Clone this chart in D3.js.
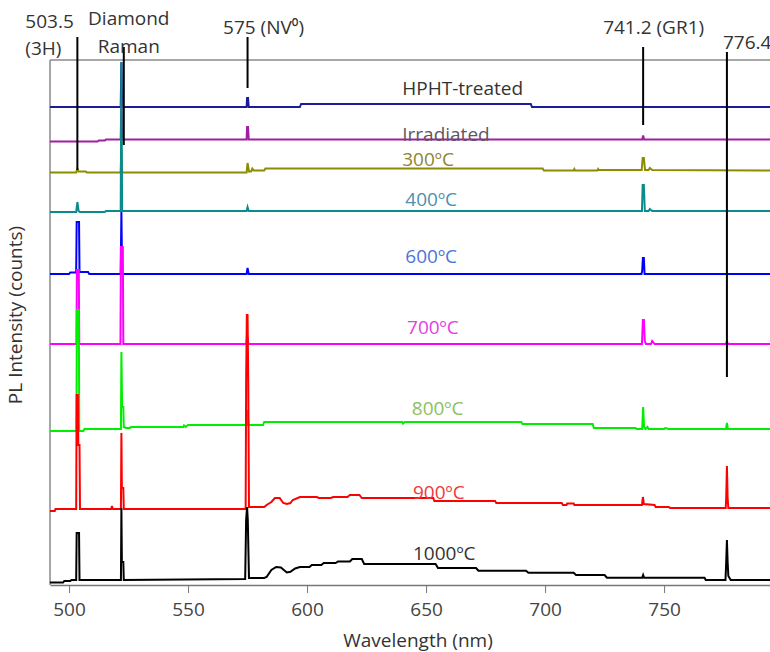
<!DOCTYPE html>
<html lang="en">

<head>
    <meta charset="UTF-8">
    <title>PL spectra</title>
    <style>
        body { margin: 0; background: #fff; }
        text { font-family: 'Open Sans', sans-serif; }
    </style>
</head>

<body>
    <div id="d3-container"></div>
    <script src="https://d3js.org/d3.v7.min.js"></script>
    <script>
        // spectra: [wavelength nm, counts] (offset stacked)
        const hphtTreated = [[492, 9560], [521.7, 9560], [522, 10460], [522.3, 9560], [574.6, 9560], [574.8, 9740], [575.2, 9740], [575.5, 9560],
            [597, 9560], [597.5, 9620], [694, 9620], [694.5, 9560], [795, 9560]]
        const irradiated = [[492, 8870], [512, 8870], [512.5, 8890], [515, 8890], [515.5, 8910], [521.7, 8910], [522, 9700], [522.3, 8910],
            [574.6, 8910], [574.8, 9160], [575.2, 9160], [575.5, 8910], [740.8, 8910], [741.2, 8990], [741.6, 8910], [795, 8910]]
        const t300 = [[492, 8250], [503, 8250], [503.5, 8330], [504, 8270], [507, 8270], [507.5, 8250], [521.7, 8250], [522, 8700], [522.3, 8250],
            [574.6, 8250], [575, 8440], [575.6, 8270], [576.5, 8270], [577, 8330], [577.6, 8290], [582, 8290], [582.5, 8330], [699, 8330],
            [699.5, 8290], [712, 8290], [712.3, 8320], [712.6, 8290], [722, 8290], [722.3, 8320], [722.6, 8300], [740.6, 8300], [741, 8540],
            [741.5, 8540], [742, 8300], [743.5, 8300], [744, 8340], [745, 8300], [795, 8290]]
        const t400 = [[492, 7460], [503, 7460], [503.5, 7660], [504, 7480], [504.5, 7460], [515, 7460], [515.5, 7480], [521.7, 7480], [522, 10460],
            [522.3, 7480], [574.6, 7480], [575, 7560], [575.5, 7480], [740.7, 7480], [741, 8000], [741.5, 8000], [741.9, 7480], [743.5, 7480],
            [744, 7520], [745, 7480], [795, 7480]]
        const t600 = [[492, 6220], [500, 6220], [500.5, 6250], [503, 6250], [503.2, 7260], [504.2, 7260], [504.4, 6260], [508, 6260], [508.5, 6220],
            [521.7, 6220], [522, 7460], [522.3, 6220], [574.6, 6220], [575, 6340], [575.5, 6220], [740.5, 6220], [740.8, 6280], [741.1, 6540],
            [741.5, 6540], [741.8, 6220], [795, 6220]]
        const t700 = [[492, 4820], [503.1, 4820], [503.3, 6300], [504.1, 6300], [504.3, 4820], [521.6, 4820], [521.8, 6760], [522.6, 6760], [522.8, 4820],
            [574.5, 4820], [574.8, 5000], [575.3, 4820], [740.7, 4820], [741.1, 5300], [741.5, 5300], [741.9, 4880], [742.4, 4820], [744.5, 4820],
            [745, 4880], [746, 4820], [776, 4820], [776.4, 4880], [776.8, 4820], [795, 4820]]
        const t800 = [[492, 3080], [503.1, 3080], [503.3, 5500], [504.1, 5500], [504.3, 3080], [506, 3080], [506.5, 3120], [521.8, 3120], [522, 4660],
            [522.3, 3560], [522.8, 3560], [523, 3160], [524, 3140], [525.6, 3140], [526, 3160], [548, 3160], [548.3, 3190], [549, 3160], [550, 3200],
            [574.6, 3200], [575, 3500], [575.4, 3200], [581.5, 3200], [582, 3260], [640, 3260], [640.3, 3230], [641, 3260], [690, 3260],
            [690.5, 3220], [720, 3220], [720.5, 3140], [738, 3140], [738.5, 3120], [740.8, 3120], [741.2, 3560], [741.6, 3160], [742.2, 3120],
            [743, 3160], [743.5, 3120], [750, 3120], [750.5, 3140], [752, 3120], [776, 3120], [776.4, 3240], [776.8, 3120], [795, 3120]]
        const t900 = [[492, 1480], [494, 1480], [494.3, 1520], [503, 1520], [503.2, 3800], [503.7, 3800], [503.9, 2800], [504.4, 2800], [504.6, 1520],
            [517.8, 1520], [518, 1580], [518.4, 1520], [521.8, 1520], [522, 3040], [522.2, 1940], [522.8, 1940], [523, 1520], [574.2, 1520],
            [574.4, 4060], [574.7, 5400], [575, 5400], [575.3, 4060], [575.6, 1560], [582, 1560], [583, 1600], [585, 1660], [586.5, 1740],
            [588.5, 1740], [590, 1640], [591.5, 1620], [593, 1640], [594, 1700], [597, 1760], [604, 1760], [605, 1740], [610, 1740],
            [611, 1760], [617, 1760], [618, 1800], [622, 1800], [623, 1740], [653, 1740], [653.5, 1680], [679, 1680], [679.5, 1640],
            [707, 1640], [707.5, 1600], [709, 1600], [709.3, 1630], [712, 1630], [712.3, 1600], [740.7, 1600], [741.1, 1760], [741.5, 1620],
            [746, 1600], [746.5, 1560], [752, 1560], [752.5, 1540], [775.9, 1540], [776.1, 1740], [776.4, 2380], [776.7, 1740], [777, 1540],
            [795, 1540]]
        const t1000 = [[492, 50], [497.5, 50], [498, 80], [500.5, 80], [501, 100], [503, 100], [503.2, 1040], [504.2, 1040], [504.4, 100],
            [521.8, 100], [522, 1540], [522.2, 460], [522.8, 460], [523, 100], [574, 120], [574.4, 1300], [574.8, 1560], [575.1, 1300],
            [575.6, 140], [582, 140], [583, 160], [585, 300], [587, 360], [589, 350], [591.5, 250], [593, 265], [595, 330], [597, 360],
            [601, 360], [602, 400], [606, 400], [607, 440], [612, 440], [613, 470], [618, 470], [619, 520], [623, 520], [624, 420],
            [654, 420], [655, 340], [671, 340], [672, 285], [692, 285], [693, 245], [712, 245], [713, 200], [725, 200], [726, 145],
            [740.8, 145], [741.2, 200], [741.6, 145], [767, 145], [767.5, 100], [775.8, 100], [776.1, 460], [776.4, 900], [776.7, 460],
            [777, 180], [778, 100], [795, 100]]

        const seriesData = [hphtTreated, irradiated, t300, t400, t600, t700, t800, t900, t1000]
        const seriesNames = ['HPHT-treated', 'Irradiated', '300ºC', '400ºC', '600ºC', '700ºC', '800ºC', '900ºC', '1000ºC']
        const lineColors = ['#1c1c9a', '#a01ea0', '#8c8c00', '#0a8c8c', '#0000ff', '#ff00ff', '#00ee00', '#ff0000', '#000000']
        const labelColors = ['#333333', '#5f5660', '#8c8632', '#4f8fb0', '#4d73d6', '#e23ee2', '#8cc060', '#f03a3a', '#333333']
        // label anchor: [wavelength, counts] of the text baseline
        const labelPos = [[640, 9800], [640, 8880], [640, 8380], [641.3, 7580], [641.3, 6440], [642, 5020], [644, 3400], [644.5, 1720], [644.5, 500]]

        // peak markers: wavelength, text lines, line top / bottom in counts
        const peakWl = [503.5, 523, 575, 741.2, 776.4]
        const peakText = [['503.5', '(3H)'], ['Diamond', 'Raman'], ['575 (NV⁰)'], ['741.2 (GR1)'], ['776.4']]
        const peakTop = [10960, 10760, 10960, 10760, 10660]
        const peakBottom = [8300, 8800, 9940, 9200, 4160]

        const xTicks = [500, 550, 600, 650, 700, 750]

        const width = 770
        const height = 652
        const margin = { top: 60, right: 0, bottom: 67, left: 50 }

        const svg = d3.select('#d3-container')
            .append('svg')
            .attr('width', width)
            .attr('height', height)

        const xScale = d3.scaleLinear()
            .domain([492, 794.5])
            .range([margin.left, width - margin.right])
        const yScale = d3.scaleLinear()
            .domain([0, 10500])
            .range([height - margin.bottom, margin.top])

        svg.append('clipPath')
            .attr('id', 'plot-clip')
            .append('rect')
            .attr('x', margin.left)
            .attr('y', 0)
            .attr('width', width - margin.left - margin.right)
            .attr('height', height - margin.bottom)

        // frame
        svg.append('line')
            .attr('x1', margin.left).attr('x2', width)
            .attr('y1', margin.top).attr('y2', margin.top)
            .attr('stroke', '#8a8a8a').attr('stroke-width', 1.5)
        svg.append('line')
            .attr('x1', margin.left).attr('x2', margin.left)
            .attr('y1', margin.top).attr('y2', height - margin.bottom)
            .attr('stroke', '#8a8a8a').attr('stroke-width', 1.5)

        const line = d3.line()
            .x(d => xScale(d[0]))
            .y(d => yScale(d[1]))

        svg.append('g')
            .attr('clip-path', 'url(#plot-clip)')
            .selectAll('path')
            .data(seriesData)
            .enter()
            .append('path')
            .attr('d', line)
            .attr('fill', 'none')
            .attr('stroke', (d, i) => lineColors[i])
            .attr('stroke-width', 2)

        svg.append('g')
            .selectAll('text')
            .data(seriesNames)
            .enter()
            .append('text')
            .attr('x', (d, i) => xScale(labelPos[i][0]))
            .attr('y', (d, i) => yScale(labelPos[i][1]))
            .attr('fill', (d, i) => labelColors[i])
            .style('font-size', '19px')
            .text(d => d)

        // peak marker lines and labels
        const markers = svg.append('g')
        markers.selectAll('line')
            .data(peakWl)
            .enter()
            .append('line')
            .attr('x1', d => xScale(d)).attr('x2', d => xScale(d))
            .attr('y1', (d, i) => yScale(peakTop[i]))
            .attr('y2', (d, i) => yScale(peakBottom[i]))
            .attr('stroke', '#000')
            .attr('stroke-width', 2)

        // [dx, first baseline, second baseline, anchor]
        const labelShift = [[-52, 28, 55, 'start'], [5, 25, 53, 'middle'], [-24.5, 34, 0, 'start'], [-40, 34, 0, 'start'], [-4, 49, 0, 'start']]
        peakText.forEach((lines, i) => {
            const t = markers.append('text')
                .attr('text-anchor', labelShift[i][3])
                .attr('fill', '#333')
                .style('font-size', '19px')
            lines.forEach((s, j) => {
                t.append('tspan')
                    .attr('x', xScale(peakWl[i]) + labelShift[i][0])
                    .attr('y', j === 0 ? labelShift[i][1] : labelShift[i][2])
                    .text(s)
            })
        })

        const xAxis = d3.axisBottom(xScale)
            .tickValues(xTicks)
            .tickSize(8)
            .tickSizeOuter(0)
        const gx = svg.append('g')
            .attr('transform', `translate(0, ${height - margin.bottom})`)
            .call(xAxis)
        gx.select('.domain').attr('stroke', '#777').attr('stroke-width', 1.5)
        gx.selectAll('.tick line').attr('stroke', '#777')
        gx.selectAll('.tick text')
            .attr('fill', '#444')
            .attr('y', 18)
            .style('font-size', '19px')
            .style('font-family', "'Open Sans', sans-serif")

        svg.append('text')
            .attr('x', 418)
            .attr('y', 647)
            .attr('text-anchor', 'middle')
            .attr('fill', '#333')
            .style('font-size', '19px')
            .text('Wavelength (nm)')

        svg.append('text')
            .attr('transform', 'translate(22, 315) rotate(-90)')
            .attr('text-anchor', 'middle')
            .attr('fill', '#333')
            .style('font-size', '19px')
            .text('PL Intensity (counts)')
    </script>
</body>

</html>
